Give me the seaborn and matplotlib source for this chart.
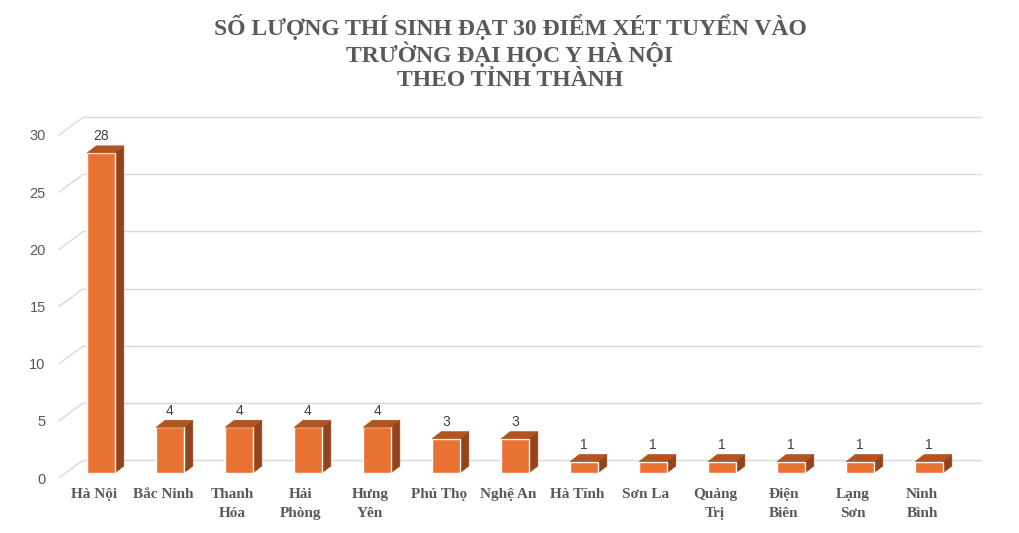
import matplotlib
matplotlib.use("Agg")
import matplotlib.pyplot as plt
import seaborn as sns
import pandas as pd
from matplotlib.patches import Polygon
from matplotlib.transforms import ScaledTranslation

provinces = ["Hà Nội", "Bắc Ninh", "Thanh\nHóa", "Hải\nPhòng", "Hưng\nYên", "Phú Thọ",
             "Nghệ An", "Hà Tĩnh", "Sơn La", "Quảng\nTrị", "Điện\nBiên", "Lạng\nSơn", "Ninh\nBình"]
counts = [28, 4, 4, 4, 4, 3, 3, 1, 1, 1, 1, 1, 1]
y_ticks = [0, 5, 10, 15, 20, 25, 30]
title_lines = ["SỐ LƯỢNG THÍ SINH ĐẠT 30 ĐIỂM XÉT TUYỂN VÀO",
               "TRƯỜNG ĐẠI HỌC Y HÀ NỘI",
               "THEO TỈNH THÀNH"]

FRONT = "#E97132"
SIDE = "#94441C"
TOP = "#B3541F"
GRID = "#D9D9D9"
TEXT = "#595959"

sns.set_theme(style="white")
plt.rcParams["font.family"] = ["Liberation Sans", "DejaVu Sans"]

W, H = 1020, 533
fig = plt.figure(figsize=(W / 100, H / 100), dpi=100)
ax = fig.add_axes([66.5 / W, 60 / H, 897 / W, 343 / H])

df = pd.DataFrame({"province": provinces, "count": counts})
sns.barplot(data=df, x="province", y="count", color=FRONT, saturation=1,
            width=0.4, ax=ax, zorder=3)
ax.set_xlim(-0.5, len(provinces) - 0.5)
ax.set_ylim(0, 30)
for s in ax.spines.values():
    s.set_visible(False)
ax.set_xlabel("")
ax.set_ylabel("")

px_x = (897 / len(provinces))
px_y = 343 / 30.0
def dxp(p):
    return p / px_x
def dyp(p):
    return p / px_y

# back wall gridlines and floor diagonals
wx, wy = dxp(17), dyp(13)
fx, fy = dxp(-7.5), dyp(-5)
x0, x1 = -0.5, len(provinces) - 0.5
for t in y_ticks:
    ax.plot([x0 + wx, x1 + wx], [t + wy, t + wy], color=GRID, lw=1.0,
            zorder=0, clip_on=False)
    ax.plot([x0 + fx, x0 + wx], [t + fy, t + wy], color=GRID, lw=1.0,
            zorder=0, clip_on=False)

# 3D faces of bars
bx, by = dxp(9), dyp(7)
for p in ax.patches:
    x, w, h = p.get_x(), p.get_width(), p.get_height()
    side = Polygon([(x + w, 0), (x + w, h), (x + w + bx, h + by), (x + w + bx, by)],
                   closed=True, facecolor=SIDE, edgecolor=SIDE, lw=0.5, zorder=2, clip_on=False)
    top = Polygon([(x, h), (x + w, h), (x + w + bx, h + by), (x + bx, h + by)],
                  closed=True, facecolor=TOP, edgecolor=TOP, lw=0.5, zorder=4, clip_on=False)
    ax.add_patch(side)
    ax.add_patch(top)

for c in ax.containers:
    ax.bar_label(c, padding=7, fontsize=10, color="#404040")

# ticks
ax.set_yticks(y_ticks)
ax.tick_params(axis="y", length=0, pad=15, labelsize=10.5, labelcolor=TEXT)
for lab in ax.get_yticklabels():
    lab.set_transform(lab.get_transform() + ScaledTranslation(0, -5 / 100, fig.dpi_scale_trans))
ax.tick_params(axis="x", length=0, pad=11, labelsize=11, labelcolor=TEXT)
for lab in ax.get_xticklabels():
    lab.set_fontfamily(["Liberation Serif", "DejaVu Serif"])
    lab.set_fontweight("bold")
    lab.set_linespacing(1.55)
    lab.set_transform(lab.get_transform() + ScaledTranslation(-7 / 100, 0, fig.dpi_scale_trans))

for i, line in enumerate(title_lines):
    fig.text(0.5, 1 - (25 + 26.5 * i) / H, line, ha="center", va="center_baseline",
             fontsize=17, fontweight="bold", color=TEXT,
             family=["Liberation Serif", "DejaVu Serif"])

fig.savefig("out.png", dpi=100, facecolor="white")
